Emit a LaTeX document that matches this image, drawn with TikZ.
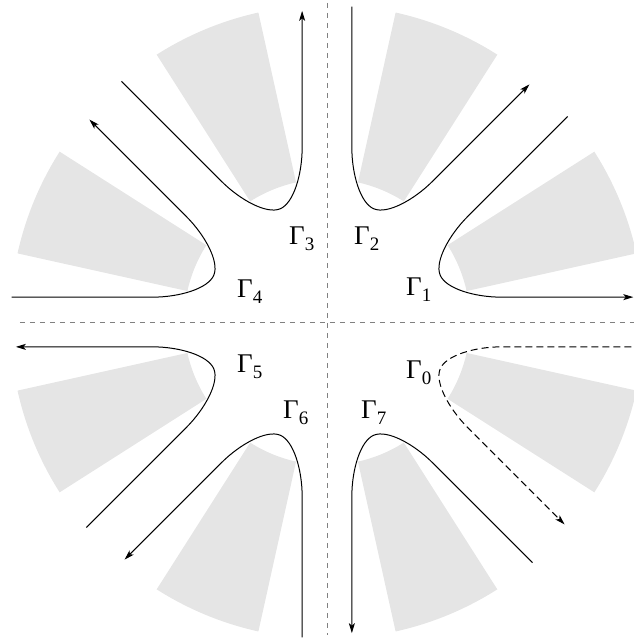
\documentclass[tikz,border=0pt]{standalone}
\usepackage{fontspec}
\setmainfont{Liberation Serif}
\usetikzlibrary{arrows.meta}
\newcommand{\subsz}{\fontsize{19}{19}\selectfont}
\newcommand{\stokessector}[1]{%
  \fill[graysector] ({#1-10}:143) arc[start angle={#1-10}, end angle={#1+10}, radius=143pt]
    -- ({#1+10}:317) arc[start angle={#1+10}, end angle={#1-10}, radius=317pt] -- cycle;}
\newcommand{\stokescurve}[3]{%
  \draw[gline,#2,rotate=#1] (301,97.75) -- (170,43.49)
    .. controls (146.9,33.92) and (122.5,15) .. (122.5,0)
    .. controls (122.5,-15) and (146.9,-33.92) .. (170,-43.49)
    -- ({#3},{-(#3-65)*0.41421});}
\tikzset{
  graysector/.style={fill=black!10},
  gline/.style={line width=1pt, -{Stealth[length=10pt,width=6pt,inset=2.5pt]}},
  axisline/.style={draw=gray, line width=0.8pt, dash pattern=on 5pt off 5pt},
  dashcurve/.style={dash pattern=on 7pt off 4pt},
  lab/.style={inner sep=0pt, anchor=base west, font=\fontsize{27}{29}\selectfont}
}
\begin{document}
\begin{tikzpicture}[x=1pt,y=1pt]
\useasboundingbox (-327,-316) rectangle (307,322);
% sectors
\foreach \a in {22.5,67.5,112.5,157.5,202.5,247.5,292.5,337.5} {\stokessector{\a}}
% axes
\coordinate (hl) at (-307,0);
\coordinate (hr) at (307,0);
\coordinate (vt) at (0,319);
\coordinate (vb) at (0,-313);
\draw[axisline] (hl) -- (hr);
\draw[axisline] (vt) -- (vb);
% curves
\stokescurve{22.5}{}{292.5}
\stokescurve{67.5}{}{297}
\stokescurve{112.5}{}{297}
\stokescurve{157.5}{}{297}
\stokescurve{202.5}{}{297}
\stokescurve{247.5}{}{297}
\stokescurve{292.5}{}{297}
\stokescurve{-22.5}{dashcurve}{297}
% labels
\node[lab] (g3) at (-38,78) {Γ\raisebox{-6pt}{\subsz 3}};
\node[lab] (g2) at (27,78) {Γ\raisebox{-6pt}{\subsz 2}};
\node[lab] (g4) at (-90,25) {Γ\raisebox{-6pt}{\subsz 4}};
\node[lab] (g1) at (79,27) {Γ\raisebox{-6pt}{\subsz 1}};
\node[lab] (g5) at (-90,-50) {Γ\raisebox{-6pt}{\subsz 5}};
\node[lab] (g0) at (79,-56) {Γ\raisebox{-6pt}{\subsz 0}};
\node[lab] (g6) at (-44,-96) {Γ\raisebox{-6pt}{\subsz 6}};
\node[lab] (g7) at (34,-96) {Γ\raisebox{-6pt}{\subsz 7}};
\end{tikzpicture}
\end{document}
